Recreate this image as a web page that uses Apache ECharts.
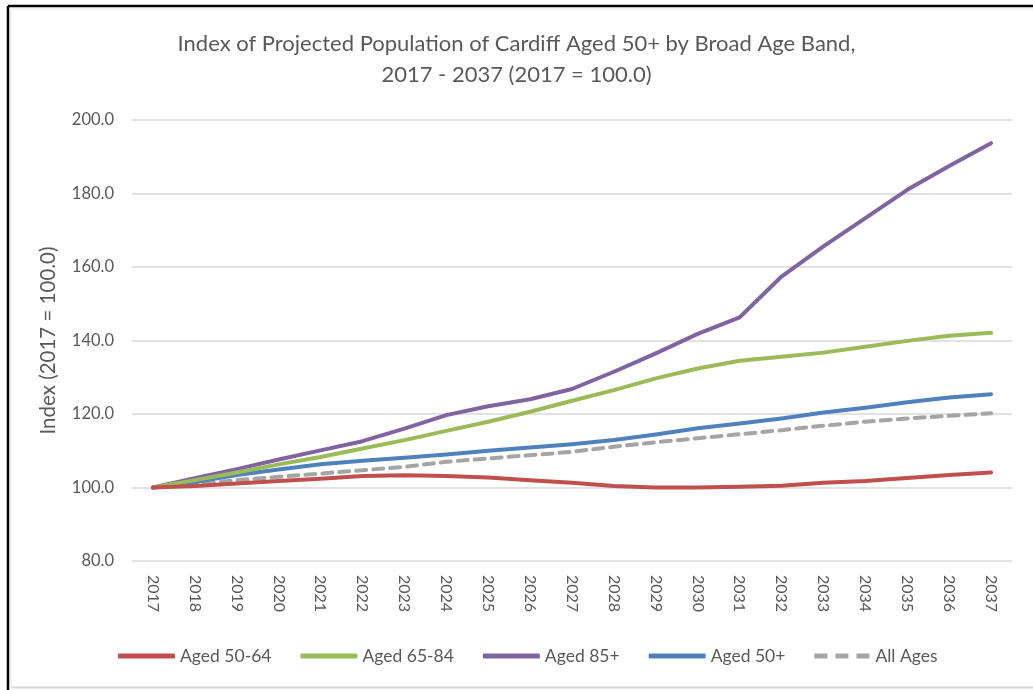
<!DOCTYPE html>
<html>
<head>
<meta charset="utf-8">
<script src="https://cdn.jsdelivr.net/npm/echarts@6/dist/echarts.min.js"></script>
<style>
html,body{margin:0;padding:0;background:#fff;}
#chart{width:1033px;height:690px;}
</style>
</head>
<body>
<div id="chart"></div>
<script>
const years = ['2017','2018','2019','2020','2021','2022','2023','2024','2025','2026','2027','2028','2029','2030','2031','2032','2033','2034','2035','2036','2037'];
const aged5064 = [100.0,100.4,101.1,101.8,102.4,103.1,103.3,103.1,102.7,102.0,101.3,100.4,100.0,100.0,100.2,100.5,101.3,101.8,102.6,103.4,104.1];
const aged6584 = [100.0,102.0,104.1,106.3,108.3,110.6,112.9,115.4,117.9,120.6,123.6,126.5,129.7,132.4,134.5,135.6,136.7,138.3,139.9,141.3,142.1];
const aged85p  = [100.0,102.5,105.0,107.6,110.1,112.6,116.0,119.7,122.1,124.0,126.8,131.5,136.5,141.8,146.3,157.4,165.6,173.3,181.0,187.5,193.7];
const aged50p  = [100.0,101.5,103.4,104.9,106.3,107.3,108.1,109.0,110.0,110.9,111.8,112.9,114.4,116.1,117.4,118.8,120.4,121.7,123.2,124.5,125.4];
const allAges  = [100.0,100.9,102.0,102.9,103.8,104.7,105.6,107.0,107.9,108.8,109.7,111.1,112.3,113.4,114.5,115.6,116.8,117.9,118.8,119.5,120.2];
const seriesNames = ['Aged 50-64','Aged 65-84','Aged 85+','Aged 50+','All Ages'];
const yTicks = {min:80, max:200, interval:20};

const FONT = 'Lato, "Open Sans", sans-serif';
const TXT = '#595959';
const colors = ['#C0504D','#9BBB59','#8064A2','#4F81BD','#A5A5A5'];
const dataSets = [aged5064, aged6584, aged85p, aged50p, allAges];
const DASH_ICON = 'path://M0,0h13v5h-13z M21,0h13v5h-13z M42,0h13v5h-13z';

const chart = echarts.init(document.getElementById('chart'), null, {renderer:'canvas'});
chart.setOption({
  animation:false,
  backgroundColor:'#fff',
  title:{
    text:'Index of Projected Population of Cardiff Aged 50+ by Broad Age Band,\n2017 - 2037 (2017 = 100.0)',
    left:'center', top:23,
    textStyle:{fontFamily:FONT, fontSize:22, fontWeight:'normal', color:TXT, lineHeight:31}
  },
  legend:{
    top:642, left:113,
    itemWidth:57, itemHeight:5, itemGap:29,
    textStyle:{fontFamily:FONT, fontSize:17.5, color:TXT},
    data:seriesNames.map((n,i)=>({name:n, icon: i===4 ? DASH_ICON : 'roundRect', itemStyle:{color:colors[i]}}))
  },
  grid:{left:132, right:21, top:120, bottom:129, containLabel:false},
  xAxis:{
    type:'category', data:years, boundaryGap:true,
    axisLine:{show:false}, axisTick:{show:false},
    axisLabel:{rotate:-90, fontFamily:FONT, fontSize:16, color:TXT, margin:14}
  },
  yAxis:{
    type:'value', min:yTicks.min, max:yTicks.max, interval:yTicks.interval,
    name:'Index (2017 = 100.0)', nameLocation:'middle', nameGap:73, nameRotate:90,
    nameTextStyle:{fontFamily:FONT, fontSize:20.5, color:TXT},
    axisLine:{show:false}, axisTick:{show:false},
    axisLabel:{fontFamily:FONT, fontSize:16.5, color:TXT, margin:18, formatter:v=>v.toFixed(1)},
    splitLine:{lineStyle:{color:'#D9D9D9', width:1.5}}
  },
  series:seriesNames.map((n,i)=>({
    name:n, type:'line', data:dataSets[i], symbol:'none', smooth:false,
    color:colors[i],
    lineStyle:{color:colors[i], width:4, type: i===4 ? [10,7] : 'solid', cap:'round', join:'round'},
    itemStyle:{color:colors[i]},
    z: 10 - i
  })),
  graphic:[
    {type:'line', shape:{x1:8,y1:6,x2:1033,y2:6}, style:{stroke:'#000', lineWidth:2.5}},
    {type:'line', shape:{x1:8,y1:6,x2:8,y2:690}, style:{stroke:'#000', lineWidth:2.5}},
    {type:'line', shape:{x1:11,y1:9,x2:1033,y2:9}, style:{stroke:'#E6E6E6', lineWidth:1}},
    {type:'line', shape:{x1:11,y1:9,x2:11,y2:686}, style:{stroke:'#E6E6E6', lineWidth:1}},
    {type:'line', shape:{x1:11,y1:687.5,x2:1033,y2:687.5}, style:{stroke:'#D9D9D9', lineWidth:2}}
  ]
});
</script>
</body>
</html>
